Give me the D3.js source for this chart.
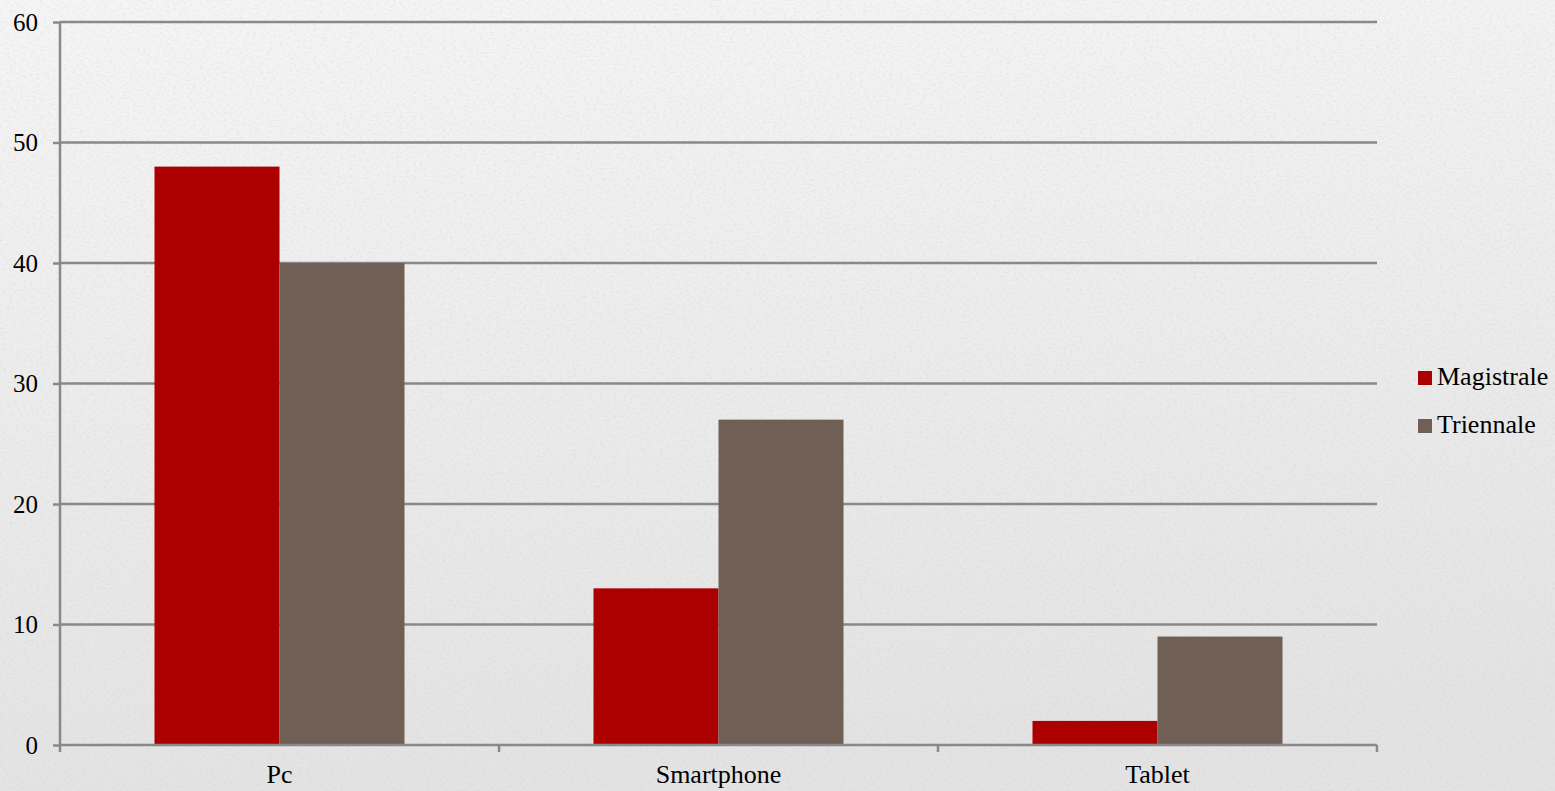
<!DOCTYPE html>
<html><head><meta charset="utf-8">
<script src="https://cdn.jsdelivr.net/npm/d3@7"></script>
<style>html,body{margin:0;padding:0;overflow:hidden;}</style>
</head><body>
<svg id="chart" width="1555" height="791"></svg>
<script>
const categories = ["Pc", "Smartphone", "Tablet"];
const seriesNames = ["Magistrale", "Triennale"];
const magistrale = [48, 13, 2];
const triennale = [40, 27, 9];
const yTicks = [0, 10, 20, 30, 40, 50, 60];
const colors = ["#AC0000", "#705F55"];

(function(){
const svg = d3.select("#chart");
const W = 1555, H = 791;
const defs = svg.append("defs");
const grad = defs.append("linearGradient").attr("id","bg").attr("x1",0).attr("y1",0).attr("x2",0.15).attr("y2",1);
grad.append("stop").attr("offset","0%").attr("stop-color","#f5f5f5");
grad.append("stop").attr("offset","100%").attr("stop-color","#e3e3e3");
const f = defs.append("filter").attr("id","noise").attr("x",0).attr("y",0).attr("width","100%").attr("height","100%");
f.append("feTurbulence").attr("type","fractalNoise").attr("baseFrequency","0.3 0.5").attr("numOctaves",2).attr("seed",3).attr("result","t");
f.append("feColorMatrix").attr("in","t").attr("type","matrix")
 .attr("values","0 0 0 0 0.6  0 0 0 0 0.6  0 0 0 0 0.6  0 0 0 -2.2 1.2").attr("result","n");
f.append("feComposite").attr("in","n").attr("in2","SourceGraphic").attr("operator","in");
svg.append("rect").attr("width",W).attr("height",H).attr("fill","url(#bg)");
svg.append("rect").attr("width",W).attr("height",H).attr("fill","#fff").attr("filter","url(#noise)").attr("opacity",0.3);

const pl = 60, pr = 1377, pt = 22, pb = 745;
const x = d3.scaleBand().domain(categories).range([pl, pr]).paddingInner(0).paddingOuter(0);
const y = d3.scaleLinear().domain([0, 60]).range([pb, pt]);
const barW = 125;
const xs = d3.scaleBand().domain(seriesNames).range([0, x.bandwidth()]).paddingInner(0)
  .paddingOuter((x.bandwidth()/barW - 2)/2);

const font = "'Liberation Serif','Times New Roman',serif";
const gridColor = "#898989";

svg.append("g").selectAll("line").data(yTicks.filter(d=>d>0)).join("line")
  .attr("x1", pl).attr("x2", pr).attr("y1", d=>y(d)).attr("y2", d=>y(d))
  .attr("stroke", gridColor).attr("stroke-width", 2.5);

const data = categories.map((c,i)=>({cat:c, vals:[magistrale[i], triennale[i]]}));
const groups = svg.append("g").selectAll("g").data(data).join("g")
  .attr("transform", d=>`translate(${x(d.cat)},0)`);
groups.selectAll("rect").data(d=>d.vals.map((v,j)=>({s:seriesNames[j], v, j}))).join("rect")
  .attr("x", d=>xs(d.s)).attr("width", xs.bandwidth())
  .attr("y", d=>y(d.v)).attr("height", d=>y(0)-y(d.v))
  .attr("fill", d=>colors[d.j]);

const yAxis = d3.axisLeft(y).tickValues(yTicks).tickSize(7).tickPadding(15).tickFormat(d3.format("d"));
const ya = svg.append("g").attr("transform", `translate(${pl},0)`).call(yAxis);
ya.select(".domain").attr("stroke", gridColor).attr("stroke-width", 2.5).attr("d", `M0,${pt}V${pb}`);
ya.selectAll(".tick line").attr("stroke", gridColor).attr("stroke-width", 2.5);
ya.selectAll(".tick text").attr("font-family", font).attr("font-size", 25).attr("fill", "#000");

const xAxis = d3.axisBottom(x).tickSize(0).tickPadding(20);
const xa = svg.append("g").attr("transform", `translate(0,${pb})`).call(xAxis);
xa.select(".domain").attr("stroke", gridColor).attr("stroke-width", 2.5).attr("d", `M${pl},0H${pr}`);
xa.selectAll(".tick text").attr("font-family", font).attr("font-size", 26).attr("fill", "#000");
const bounds = categories.map(c=>x(c)).concat([pr]);
xa.append("g").selectAll("line").data(bounds).join("line")
  .attr("x1", d=>d).attr("x2", d=>d).attr("y1", 0).attr("y2", 7)
  .attr("stroke", gridColor).attr("stroke-width", 2.5);

const lg = svg.append("g").attr("transform", "translate(1418,371)");
const items = lg.selectAll("g").data(seriesNames).join("g").attr("transform", (d,i)=>`translate(0,${i*48})`);
items.append("rect").attr("width", 14).attr("height", 14).attr("fill", (d,i)=>colors[i]);
items.append("text").attr("x", 19).attr("y", 14).text(d=>d)
  .attr("font-family", font).attr("font-size", 26).attr("fill", "#000");
})();
</script>
</body></html>
